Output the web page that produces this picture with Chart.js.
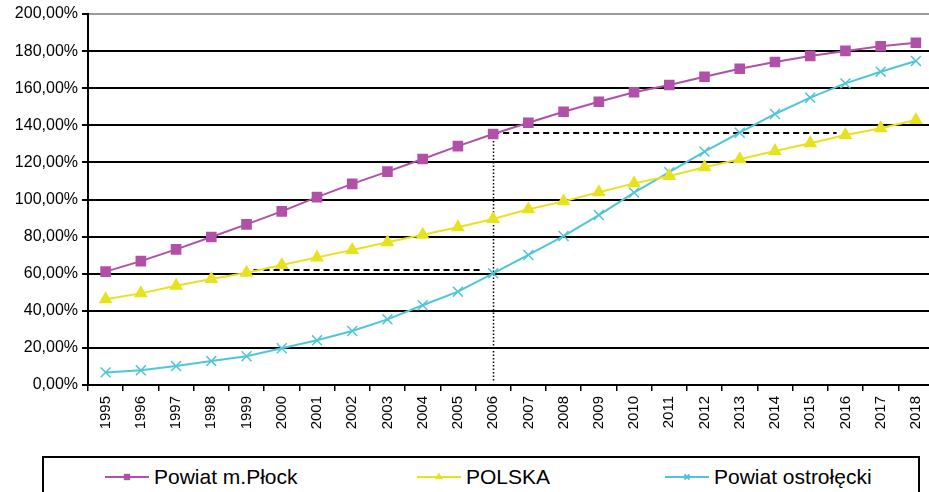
<!DOCTYPE html>
<html>
<head>
<meta charset="utf-8">
<script src="https://cdn.jsdelivr.net/npm/chart.js@4/dist/chart.umd.min.js"></script>
<style>
  html, body { margin: 0; padding: 0; background: #fff; overflow: hidden; }
  #wrap { position: relative; width: 942px; height: 445px; }
  #legend { position: absolute; left: 42px; top: 456px; width: 878px; height: 44px;
            border: 2px solid #000; box-sizing: border-box; background: #fff;
            font-family: 'Liberation Sans', Arial, sans-serif; font-size: 21px; color: #000; }
  .item { position: absolute; top: 6px; height: 26px; display: flex; align-items: center; white-space: nowrap; }
  .item canvas { margin-right: 5px; }
</style>
</head>
<body>
<div id="wrap"><canvas id="c"></canvas></div>
<div id="legend"></div>
<script>
// ---- data ----
const years = ['1995','1996','1997','1998','1999','2000','2001','2002','2003','2004','2005','2006',
               '2007','2008','2009','2010','2011','2012','2013','2014','2015','2016','2017','2018'];
const plock  = [61.1, 66.8, 73.1, 79.8, 86.6, 93.6, 101.3, 108.4, 115.0, 121.8, 128.8, 135.3,
                141.4, 147.3, 152.7, 157.8, 161.7, 166.2, 170.5, 174.1, 177.4, 180.1, 182.6, 184.5];
const polska = [46.2, 49.4, 53.5, 57.1, 60.5, 64.7, 68.8, 72.8, 76.9, 81.0, 85.0, 89.5,
                94.7, 99.0, 103.9, 108.7, 112.7, 117.4, 121.7, 126.1, 130.3, 134.8, 138.4, 142.9];
const ostroleka = [6.8, 7.9, 10.2, 12.9, 15.5, 19.8, 24.1, 29.1, 35.4, 43.0, 50.3, 60.2,
                   70.1, 80.3, 91.6, 103.7, 114.7, 125.8, 136.0, 146.1, 154.9, 162.6, 168.9, 174.7];
const seriesNames = ['Powiat m.Płock', 'POLSKA', 'Powiat ostrołęcki'];
const yTicks = [0, 20, 40, 60, 80, 100, 120, 140, 160, 180, 200];
// guide lines in data units (category index, percent)
const dashedFrom = [4.2, 11];
const dashedTo   = [10.7, 20.75];
const dashedY    = [62, 135.8];
const dottedX    = [11];
const dottedTop  = [135.3];

const FONT = "'Liberation Sans', Arial, sans-serif";
const colors = ['#B050A8', '#E8E21E', '#4FC5DA'];

const guidePlugin = {
  id: 'guides',
  beforeDatasetsDraw(chart) {
    const {ctx, scales: {x, y}} = chart;
    ctx.save();
    ctx.strokeStyle = '#000';
    ctx.lineWidth = 2;
    ctx.setLineDash([6, 4]);
    for (let i = 0; i < dashedY.length; i++) {
      const py = Math.round(y.getPixelForValue(dashedY[i])) ;
      ctx.beginPath();
      ctx.moveTo(x.getPixelForValue(dashedFrom[i]), py);
      ctx.lineTo(x.getPixelForValue(dashedTo[i]), py);
      ctx.stroke();
    }
    ctx.lineWidth = 1.5;
    ctx.setLineDash([1.5, 2]);
    for (let i = 0; i < dottedX.length; i++) {
      const px = Math.round(x.getPixelForValue(dottedX[i])) + 0.5;
      ctx.beginPath();
      ctx.moveTo(px, y.getPixelForValue(dottedTop[i]));
      ctx.lineTo(px, y.getPixelForValue(0) - 4);
      ctx.stroke();
    }
    ctx.restore();
  }
};

const chart = new Chart(document.getElementById('c'), {
  type: 'line',
  data: {
    labels: years,
    datasets: [
      { label: seriesNames[0], data: plock, borderColor: colors[0], backgroundColor: colors[0],
        borderWidth: 2, pointStyle: 'rect', pointRadius: 7.5, pointBorderWidth: 0, tension: 0 },
      { label: seriesNames[1], data: polska, borderColor: colors[1], backgroundColor: colors[1],
        borderWidth: 2, pointStyle: 'triangle', pointRadius: 8, pointBorderWidth: 0, tension: 0 },
      { label: seriesNames[2], data: ostroleka, borderColor: colors[2], backgroundColor: colors[2],
        borderWidth: 2, pointStyle: 'crossRot', pointRadius: 7, pointBorderWidth: 1.5, tension: 0 }
    ]
  },
  options: {
    responsive: true,
    maintainAspectRatio: false,
    animation: false,
    layout: { padding: { top: 14, left: 0, right: 0, bottom: 0 } },
    plugins: { legend: { display: false }, tooltip: { enabled: false } },
    scales: {
      x: {
        offset: true,
        grid: { offset: true, drawOnChartArea: false, drawTicks: true, tickLength: 6, color: '#000', lineWidth: 1.5 },
        border: { color: '#000', width: 2 },
        ticks: { color: '#000', font: { family: FONT, size: 15 }, minRotation: 90, maxRotation: 90, padding: 5, autoSkip: false },
        afterFit(s) { s.height = 60; }
      },
      y: {
        min: 0, max: 200,
        afterBuildTicks(s) { s.ticks = yTicks.map(v => ({ value: v })); },
        grid: {
          color: (c) => c.tick && c.tick.value === 200 ? '#9a9a9a' : '#000',
          lineWidth: 2, tickLength: 6, tickColor: '#000'
        },
        border: { color: '#000', width: 2 },
        ticks: { color: '#000', font: { family: FONT, size: 16 }, padding: 4,
                 callback: (v) => v.toFixed(2).replace('.', ',') + '%' },
        afterFit(s) { s.width = 88; }
      }
    }
  },
  plugins: [guidePlugin]
});

// ---- HTML legend built from the chart datasets ----
const legendLefts = [61, 373, 621];
const legend = document.getElementById('legend');
chart.data.datasets.forEach((ds, i) => {
  const item = document.createElement('div');
  item.className = 'item';
  item.style.left = legendLefts[i] + 'px';
  const cv = document.createElement('canvas');
  cv.width = 44; cv.height = 20;
  const g = cv.getContext('2d');
  g.strokeStyle = ds.borderColor; g.lineWidth = 2;
  g.beginPath(); g.moveTo(0, 10); g.lineTo(44, 10); g.stroke();
  g.fillStyle = ds.backgroundColor;
  Chart.helpers.drawPoint(g, { pointStyle: ds.pointStyle, radius: ds.pointStyle === 'crossRot' ? 3.5 : 4.5,
                               borderWidth: ds.pointStyle === 'crossRot' ? 1.2 : 0 }, 22, 10);
  const sp = document.createElement('span');
  sp.textContent = ds.label;
  item.appendChild(cv); item.appendChild(sp);
  legend.appendChild(item);
});
</script>
</body>
</html>
